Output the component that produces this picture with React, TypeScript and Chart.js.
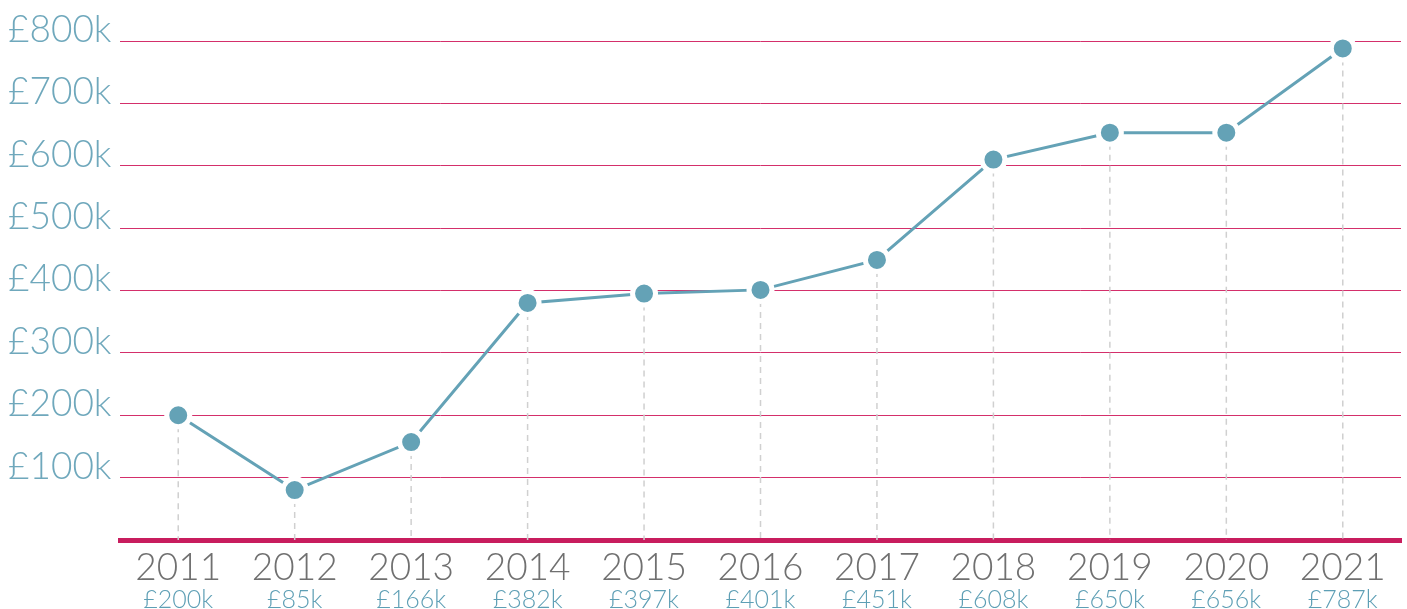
import React, { useEffect, useRef } from "react";
import { Chart, registerables } from "chart.js";

Chart.register(...registerables);

const years = ["2011", "2012", "2013", "2014", "2015", "2016", "2017", "2018", "2019", "2020", "2021"];
const valueLabels = ["£200k", "£85k", "£166k", "£382k", "£397k", "£401k", "£451k", "£608k", "£650k", "£656k", "£787k"];
const plottedValues = [200, 80, 157, 380, 395, 401, 449, 610, 653, 653, 788];
const yTicks = [100, 200, 300, 400, 500, 600, 700, 800];

const FONT = "Lato";

const dropLines = {
  id: "dropLines",
  beforeDatasetsDraw(chart: any) {
    const { ctx, chartArea } = chart;
    const meta = chart.getDatasetMeta(0);
    ctx.save();
    ctx.strokeStyle = "#d0d0d0";
    ctx.lineWidth = 1.5;
    ctx.setLineDash([6, 5]);
    meta.data.forEach((pt: any) => {
      ctx.beginPath();
      ctx.moveTo(pt.x, pt.y);
      ctx.lineTo(pt.x, chartArea.bottom);
      ctx.stroke();
    });
    ctx.restore();
  },
};

export default function App() {
  const ref = useRef<HTMLCanvasElement>(null);
  useEffect(() => {
    if (!ref.current) return;
    const chart = new Chart(ref.current, {
      type: "line",
      data: {
        labels: years,
        datasets: [
          {
            data: plottedValues,
            borderColor: "#64a2b6",
            borderWidth: 3,
            backgroundColor: "#64a2b6",
            pointBackgroundColor: "#64a2b6",
            pointBorderColor: "#ffffff",
            pointBorderWidth: 5,
            pointRadius: 11.5,
            tension: 0,
            clip: false as any,
          },
        ],
      },
      options: {
        animation: false,
        responsive: false,
        maintainAspectRatio: false,
        layout: { autoPadding: false, padding: { left: 8, right: 6, top: 41, bottom: 0 } },
        plugins: { legend: { display: false }, tooltip: { enabled: false } },
        scales: {
          x: {
            type: "category",
            offset: true,
            afterFit(scale: any) {
              scale.height = 45;
              scale.paddingLeft = 0;
              scale.paddingRight = 0;
            },
            grid: { display: false, drawTicks: false },
            border: { display: true, color: "#c81d5e", width: 5 },
            ticks: {
              color: "#707070",
              font: { family: FONT, size: 37, weight: "300" as any },
              padding: 6,
              maxRotation: 0,
              autoSkip: false,
            },
          },
          x2: {
            type: "category",
            position: "bottom",
            labels: valueLabels,
            offset: true,
            afterFit(scale: any) {
              scale.paddingLeft = 0;
              scale.paddingRight = 0;
            },
            grid: { display: false, drawTicks: false },
            border: { display: false },
            ticks: {
              color: "#5e9fb5",
              font: { family: FONT, size: 25, weight: "300" as any },
              padding: 0,
              maxRotation: 0,
              autoSkip: false,
            },
          },
          y: {
            min: 0,
            max: 800,
            afterFit(scale: any) {
              scale.width = 112;
            },
            afterBuildTicks(scale: any) {
              scale.ticks = [0, ...yTicks].map((v) => ({ value: v }));
            },
            grid: { color: "#d42f6b", lineWidth: 1, drawTicks: false },
            border: { display: false },
            ticks: {
              color: "#6fa8bc",
              font: { family: FONT, size: 37, weight: "300" as any },
              crossAlign: "far",
              padding: 8,
              labelOffset: -11,
              callback: (v: any) => (v === 0 ? "" : `£${v}k`),
            },
          },
        },
      },
      plugins: [dropLines],
    });
    return () => chart.destroy();
  }, []);
  return (
    <div style={{ position: "fixed", left: 0, top: 0, width: 1407, height: 609, overflow: "hidden", background: "#fff" }}>
      <canvas ref={ref} width={1407} height={615} style={{ display: "block", width: 1407, height: 615 }} />
    </div>
  );
}
